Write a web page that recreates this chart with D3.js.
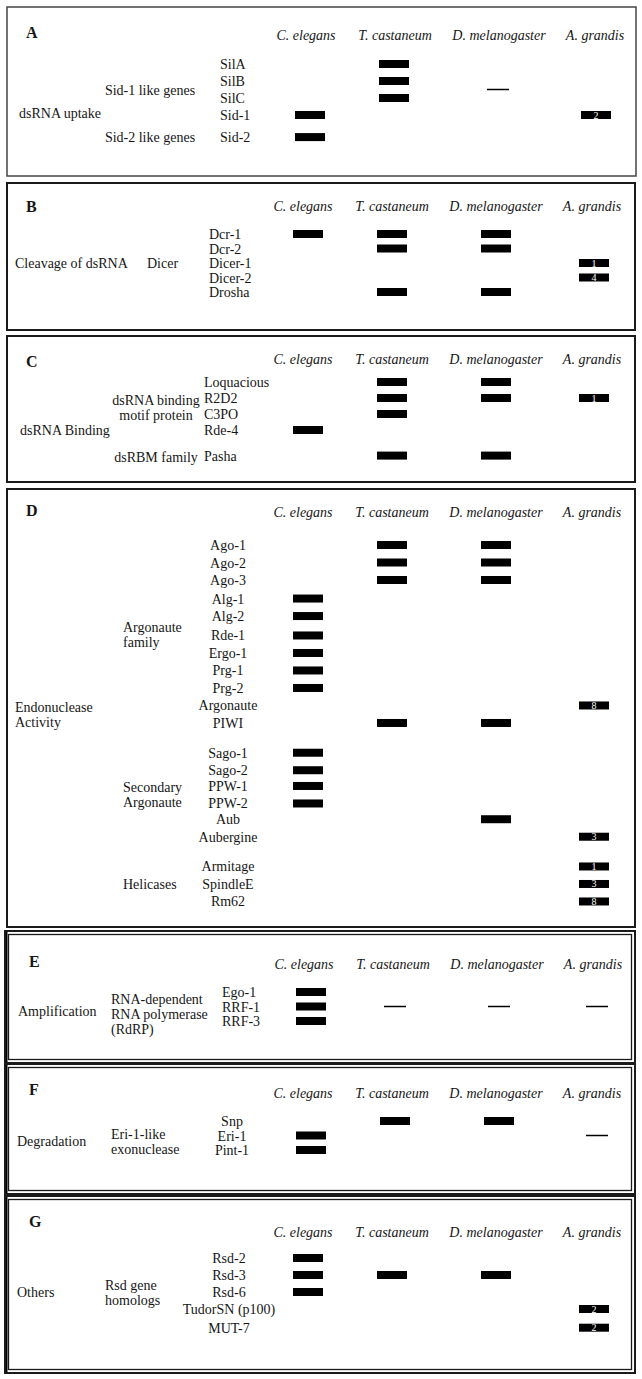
<!DOCTYPE html>
<html>
<head>
<meta charset="utf-8">
<script src="https://cdn.jsdelivr.net/npm/d3@7/dist/d3.min.js"></script>
<style>
  body { margin: 0; background: #fff; }
  text { fill: #161616; }
</style>
</head>
<body>
<div id="chart"></div>
<script>
// columns
const species = ['C. elegans', 'T. castaneum', 'D. melanogaster', 'A. grandis'];
const panelLetters = ['A', 'B', 'C', 'D', 'E', 'F', 'G'];
const processes = ['dsRNA uptake', 'Cleavage of dsRNA', 'dsRNA Binding', 'Endonuclease\nActivity',
    'Amplification', 'Degradation', 'Others'];

// genes per panel; hits = [C. elegans, T. castaneum, D. melanogaster, A. grandis]
// 1 = homolog found, 0 = none, A. grandis value = number of transcripts
const genesA = ['SilA', 'SilB', 'SilC', 'Sid-1', 'Sid-2'];
const hitsA = [[0, 1, 0, 0], [0, 1, 0, 0], [0, 1, 0, 0], [1, 0, 0, 2], [1, 0, 0, 0]];
const groupsA = [
    { label: 'Sid-1 like genes', genes: ['SilA', 'SilB', 'SilC', 'Sid-1'], absent: ['D. melanogaster'] },
    { label: 'Sid-2 like genes', genes: ['Sid-2'], absent: [] }
];

const genesB = ['Dcr-1', 'Dcr-2', 'Dicer-1', 'Dicer-2', 'Drosha'];
const hitsB = [[1, 1, 1, 0], [0, 1, 1, 0], [0, 0, 0, 1], [0, 0, 0, 4], [0, 1, 1, 0]];
const groupsB = [{ label: 'Dicer', genes: genesB, absent: [] }];

const genesC = ['Loquacious', 'R2D2', 'C3PO', 'Rde-4', 'Pasha'];
const hitsC = [[0, 1, 1, 0], [0, 1, 1, 1], [0, 1, 0, 0], [1, 0, 0, 0], [0, 1, 1, 0]];
const groupsC = [
    { label: 'dsRNA binding\nmotif protein', genes: ['Loquacious', 'R2D2', 'C3PO', 'Rde-4'], absent: [] },
    { label: 'dsRBM family', genes: ['Pasha'], absent: [] }
];

const genesD = ['Ago-1', 'Ago-2', 'Ago-3', 'Alg-1', 'Alg-2', 'Rde-1', 'Ergo-1', 'Prg-1', 'Prg-2',
    'Argonaute', 'PIWI', 'Sago-1', 'Sago-2', 'PPW-1', 'PPW-2', 'Aub', 'Aubergine',
    'Armitage', 'SpindleE', 'Rm62'];
const hitsD = [[0, 1, 1, 0], [0, 1, 1, 0], [0, 1, 1, 0], [1, 0, 0, 0], [1, 0, 0, 0], [1, 0, 0, 0],
    [1, 0, 0, 0], [1, 0, 0, 0], [1, 0, 0, 0], [0, 0, 0, 8], [0, 1, 1, 0], [1, 0, 0, 0], [1, 0, 0, 0],
    [1, 0, 0, 0], [1, 0, 0, 0], [0, 0, 1, 0], [0, 0, 0, 3], [0, 0, 0, 1], [0, 0, 0, 3], [0, 0, 0, 8]];
const groupsD = [
    { label: 'Argonaute\nfamily', genes: genesD.slice(0, 11), absent: [] },
    { label: 'Secondary\nArgonaute', genes: genesD.slice(11, 17), absent: [] },
    { label: 'Helicases', genes: genesD.slice(17), absent: [] }
];

const genesE = ['Ego-1', 'RRF-1', 'RRF-3'];
const hitsE = [[1, 0, 0, 0], [1, 0, 0, 0], [1, 0, 0, 0]];
const groupsE = [{ label: 'RNA-dependent\nRNA polymerase\n(RdRP)', genes: genesE,
    absent: ['T. castaneum', 'D. melanogaster', 'A. grandis'] }];

const genesF = ['Snp', 'Eri-1', 'Pint-1'];
const hitsF = [[0, 1, 1, 0], [1, 0, 0, 0], [1, 0, 0, 0]];
const groupsF = [{ label: 'Eri-1-like\nexonuclease', genes: genesF, absent: ['A. grandis'] }];

const genesG = ['Rsd-2', 'Rsd-3', 'Rsd-6', 'TudorSN (p100)', 'MUT-7'];
const hitsG = [[1, 0, 0, 0], [1, 1, 1, 0], [1, 0, 0, 0], [0, 0, 0, 2], [0, 0, 0, 2]];
const groupsG = [{ label: 'Rsd gene\nhomologs', genes: genesG, absent: [] }];

const panelGenes = [genesA, genesB, genesC, genesD, genesE, genesF, genesG];
const panelHits = [hitsA, hitsB, hitsC, hitsD, hitsE, hitsF, hitsG];
const panelGroups = [groupsA, groupsB, groupsC, groupsD, groupsE, groupsF, groupsG];

// layout of each panel (page pixels)
const layout = [
    { box: [7, 7, 636, 176], frame: 'single', letterY: 38, headY: 40, hdx: 3, bdx: 2,
      row0: 64, step: 17, gaps: { 'Sid-2': 0.3 }, geneX: 220, geneAnchor: 'start',
      groupX: 150, groupAnchor: 'middle', groupDy: 0, catX: 19, catAt: ['Sid-1'], catDy: -2 },
    { box: [7, 183, 635, 330], frame: 'single', letterY: 212, headY: 211, hdx: 0, bdx: 0,
      row0: 234, step: 14.5, gaps: {}, geneX: 209, geneAnchor: 'start',
      groupX: 147, groupAnchor: 'start', groupDy: 0, catX: 15, catAt: genesB, catDy: 0 },
    { box: [7, 336, 635, 482], frame: 'single', letterY: 367, headY: 364, hdx: 0, bdx: 0,
      row0: 382, step: 16, gaps: { 'Pasha': 0.6 }, geneX: 204, geneAnchor: 'start',
      groupX: 156, groupAnchor: 'middle', groupDy: 1, catX: 20, catAt: ['Rde-4'], catDy: 0 },
    { box: [7, 489, 635, 927], frame: 'single', letterY: 516, headY: 517, hdx: 0, bdx: 0,
      row0: 545, step: 17.5,
      gaps: { 'Alg-1': 0.06, 'Rde-1': 0.11, 'Sago-1': 0.7, 'PPW-1': -0.1, 'Aub': -0.1, 'Armitage': 0.7 },
      geneX: 228, geneAnchor: 'middle',
      groupX: 123, groupAnchor: 'start', groupDy: 0, catX: 15, catAt: ['Argonaute', 'PIWI'], catDy: 0 },
    { box: [5, 931, 635, 1063], frame: 'double', letterY: 967, headY: 969, hdx: 1, bdx: 3,
      row0: 992, step: 14.5, gaps: {}, geneX: 222, geneAnchor: 'start',
      groupX: 111, groupAnchor: 'start', groupDy: 7, catX: 18, catAt: genesE, catDy: 4 },
    { box: [5, 1064, 635, 1194], frame: 'double', letterY: 1095, headY: 1098, hdx: 0, bdx: 3,
      row0: 1121, step: 14.5, gaps: {}, geneX: 232, geneAnchor: 'middle',
      groupX: 111, groupAnchor: 'start', groupDy: 6, catX: 17, catAt: genesF, catDy: 5 },
    { box: [5, 1196, 635, 1373], frame: 'double', letterY: 1227, headY: 1237, hdx: 0, bdx: 0,
      row0: 1258, step: 17, gaps: { 'MUT-7': 0.1 }, geneX: 229, geneAnchor: 'middle',
      groupX: 105, groupAnchor: 'start', groupDy: 0, catX: 17, catAt: genesG, catDy: 0 }
];

const width = 642;
const height = 1379;
const barW = 30;
const barH = 8;
const lineH = 15;
const serif = '"Liberation Serif", "Times New Roman", Times, serif';

const headX = d3.scaleOrdinal().domain(species).range([303, 392, 496, 592]);
const barX = d3.scaleOrdinal().domain(species).range([308, 392, 496, 594]);

const svg = d3.select('#chart')
    .append('svg')
    .attr('width', width)
    .attr('height', height)
    .attr('font-family', serif);

// thick rule running down the left of the lower panels
svg.append('line')
    .attr('x1', 6).attr('x2', 6)
    .attr('y1', 930).attr('y2', 1374)
    .attr('stroke', '#000')
    .attr('stroke-width', 3);

function multiline(sel, label, x, cy, anchor) {
    const lines = label.split('\n');
    const top = cy - (lines.length - 1) * lineH / 2;
    sel.append('text')
        .attr('text-anchor', anchor)
        .attr('font-size', 14)
        .attr('font-family', serif)
        .selectAll('tspan')
        .data(lines)
        .join('tspan')
        .attr('x', x)
        .attr('y', (d, i) => top + i * lineH + 5)
        .text(d => d);
}

function drawPanel(p) {
    const L = layout[p];
    const genes = panelGenes[p];
    const hits = panelHits[p];
    const g = svg.append('g');
    const [x0, y0, x1, y1] = L.box;

    g.append('rect')
        .attr('x', x0).attr('y', y0)
        .attr('width', x1 - x0).attr('height', y1 - y0)
        .attr('fill', 'none')
        .attr('stroke', p === 0 ? '#444' : '#1a1a1a')
        .attr('stroke-width', L.frame === 'double' ? 2 : (p === 0 ? 1.5 : 2));
    if (L.frame === 'double') {
        g.append('rect')
            .attr('x', x0 + 3.5).attr('y', y0 + 3.5)
            .attr('width', x1 - x0 - 7).attr('height', y1 - y0 - 7)
            .attr('fill', 'none')
            .attr('stroke', '#1a1a1a')
            .attr('stroke-width', 1.3);
    }

    g.append('text')
        .attr('x', p >= 4 ? 29 : 26)
        .attr('y', L.letterY)
        .attr('font-size', 16)
        .attr('font-weight', 'bold')
        .text(panelLetters[p]);

    g.selectAll('.head')
        .data(species)
        .join('text')
        .attr('class', 'head')
        .attr('x', d => headX(d) + L.hdx)
        .attr('y', L.headY)
        .attr('text-anchor', 'middle')
        .attr('font-size', 14)
        .attr('font-style', 'italic')
        .text(d => d);

    // row positions: index plus accumulated extra gaps
    let acc = 0;
    const rowIndex = {};
    genes.forEach((gene, i) => {
        acc += L.gaps[gene] || 0;
        rowIndex[gene] = i + acc;
    });
    const y = d3.scaleLinear().domain([0, 1]).range([L.row0, L.row0 + L.step]);
    const rowY = gene => y(rowIndex[gene]);
    const meanY = list => d3.mean(list, rowY);

    g.selectAll('.gene')
        .data(genes)
        .join('text')
        .attr('class', 'gene')
        .attr('x', L.geneX)
        .attr('y', d => rowY(d) + 5)
        .attr('text-anchor', L.geneAnchor)
        .attr('font-size', 14)
        .text(d => d);

    const cells = [];
    genes.forEach((gene, i) => {
        hits[i].forEach((v, j) => {
            if (v > 0) cells.push({ gene, sp: species[j], count: j === 3 ? v : null });
        });
    });

    g.selectAll('.bar')
        .data(cells)
        .join('rect')
        .attr('class', 'bar')
        .attr('x', d => barX(d.sp) + L.bdx - barW / 2)
        .attr('y', d => rowY(d.gene) - barH / 2)
        .attr('width', barW)
        .attr('height', barH)
        .attr('fill', '#000');

    g.selectAll('.count')
        .data(cells.filter(d => d.count !== null))
        .join('text')
        .attr('class', 'count')
        .attr('x', d => barX(d.sp) + L.bdx)
        .attr('y', d => rowY(d.gene) + 3.5)
        .attr('text-anchor', 'middle')
        .attr('font-size', 10)
        .style('fill', '#fff')
        .text(d => d.count);

    panelGroups[p].forEach(grp => {
        const cy = meanY(grp.genes);
        multiline(g, grp.label, L.groupX, cy + L.groupDy, L.groupAnchor);
        grp.absent.forEach(sp => {
            g.append('line')
                .attr('x1', barX(sp) + L.bdx - 11)
                .attr('x2', barX(sp) + L.bdx + 11)
                .attr('y1', cy).attr('y2', cy)
                .attr('stroke', '#000')
                .attr('stroke-width', 1.5);
        });
    });

    multiline(g, processes[p], L.catX, meanY(L.catAt) + L.catDy, 'start');
}

panelLetters.forEach((_, p) => drawPanel(p));
</script>
</body>
</html>
